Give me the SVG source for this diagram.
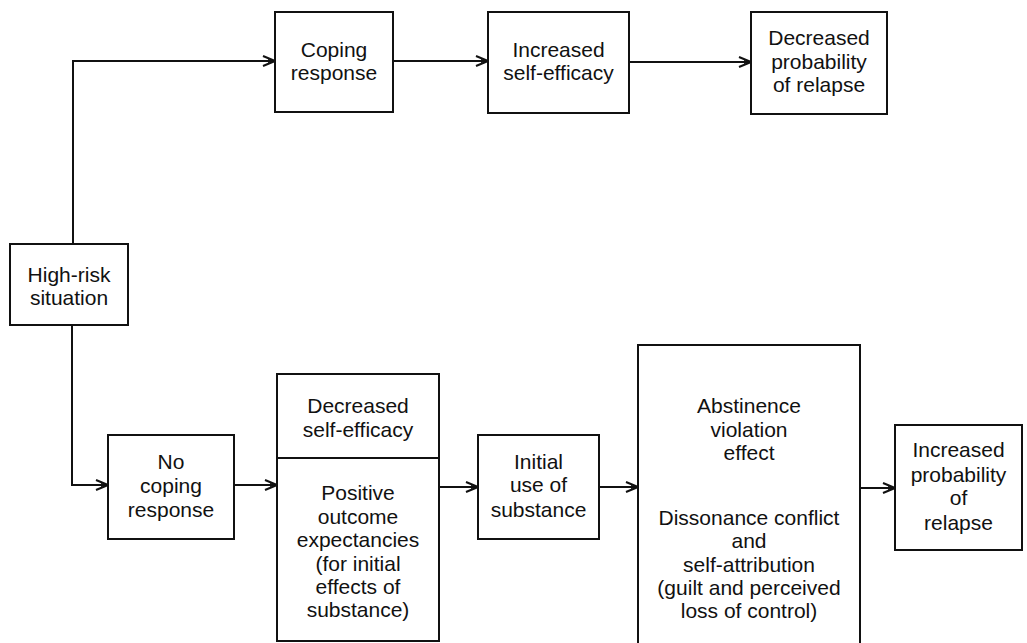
<svg xmlns="http://www.w3.org/2000/svg" width="1027" height="643" viewBox="0 0 1027 643">
<style>
.box{fill:#fff;stroke:#111;stroke-width:2}
.t{font-family:"Liberation Sans",Arial,sans-serif;font-size:21px;fill:#111;text-anchor:middle}
.c{fill:none;stroke:#111;stroke-width:2}
</style>
<defs>
<marker id="arr" viewBox="0 0 14 12" refX="13" refY="6" markerWidth="14" markerHeight="12" markerUnits="userSpaceOnUse" orient="auto">
<path d="M1,1 L13,6 L1,11" fill="none" stroke="#111" stroke-width="2"/>
<path d="M6,4 L13,6 L6,8 Z" fill="#111"/>
</marker>
</defs>
<rect width="1027" height="643" fill="#fff"/>
<g id="connectors">
<path class="c" d="M73,244 V61 H275" marker-end="url(#arr)"/>
<path class="c" d="M393,61 H488" marker-end="url(#arr)"/>
<path class="c" d="M629,62 H751" marker-end="url(#arr)"/>
<path class="c" d="M72,325 V485 H108" marker-end="url(#arr)"/>
<path class="c" d="M234,485 H277" marker-end="url(#arr)"/>
<path class="c" d="M439,487 H478" marker-end="url(#arr)"/>
<path class="c" d="M599,487 H638" marker-end="url(#arr)"/>
<path class="c" d="M860,488 H895" marker-end="url(#arr)"/>
</g>
<g id="high-risk">
<rect class="box" x="10" y="244" width="118" height="81"/>
<text class="t" x="69" y="282">High-risk</text>
<text class="t" x="69" y="305">situation</text>
</g>
<g id="coping">
<rect class="box" x="275" y="12" width="118" height="100"/>
<text class="t" x="334" y="57">Coping</text>
<text class="t" x="334" y="80">response</text>
</g>
<g id="inc-self-efficacy">
<rect class="box" x="488" y="12" width="141" height="101"/>
<text class="t" x="558.5" y="57">Increased</text>
<text class="t" x="558.5" y="80">self-efficacy</text>
</g>
<g id="dec-probability">
<rect class="box" x="751" y="12" width="136" height="102"/>
<text class="t" x="819" y="45">Decreased</text>
<text class="t" x="819" y="69">probability</text>
<text class="t" x="819" y="92">of relapse</text>
</g>
<g id="no-coping">
<rect class="box" x="108" y="435" width="126" height="104"/>
<text class="t" x="171" y="469">No</text>
<text class="t" x="171" y="493">coping</text>
<text class="t" x="171" y="517">response</text>
</g>
<g id="dec-self-efficacy">
<rect class="box" x="277" y="374" width="162" height="267"/>
<line class="c" x1="277" y1="458" x2="439" y2="458"/>
<text class="t" x="358" y="413">Decreased</text>
<text class="t" x="358" y="437">self-efficacy</text>
<text class="t" x="358" y="500">Positive</text>
<text class="t" x="358" y="524">outcome</text>
<text class="t" x="358" y="547">expectancies</text>
<text class="t" x="358" y="571">(for initial</text>
<text class="t" x="358" y="594">effects of</text>
<text class="t" x="358" y="617">substance)</text>
</g>
<g id="initial-use">
<rect class="box" x="478" y="435" width="121" height="104"/>
<text class="t" x="538.5" y="469">Initial</text>
<text class="t" x="538.5" y="492">use of</text>
<text class="t" x="538.5" y="517">substance</text>
</g>
<g id="abstinence">
<rect class="box" x="638" y="345" width="222" height="310"/>
<text class="t" x="749" y="413">Abstinence</text>
<text class="t" x="749" y="437">violation</text>
<text class="t" x="749" y="460">effect</text>
<text class="t" x="749" y="525">Dissonance conflict</text>
<text class="t" x="749" y="548">and</text>
<text class="t" x="749" y="572">self-attribution</text>
<text class="t" x="749" y="595">(guilt and perceived</text>
<text class="t" x="749" y="618">loss of control)</text>
</g>
<g id="inc-probability">
<rect class="box" x="895" y="425" width="127" height="125"/>
<text class="t" x="958.5" y="457">Increased</text>
<text class="t" x="958.5" y="482">probability</text>
<text class="t" x="958.5" y="505">of</text>
<text class="t" x="958.5" y="530">relapse</text>
</g>
</svg>
